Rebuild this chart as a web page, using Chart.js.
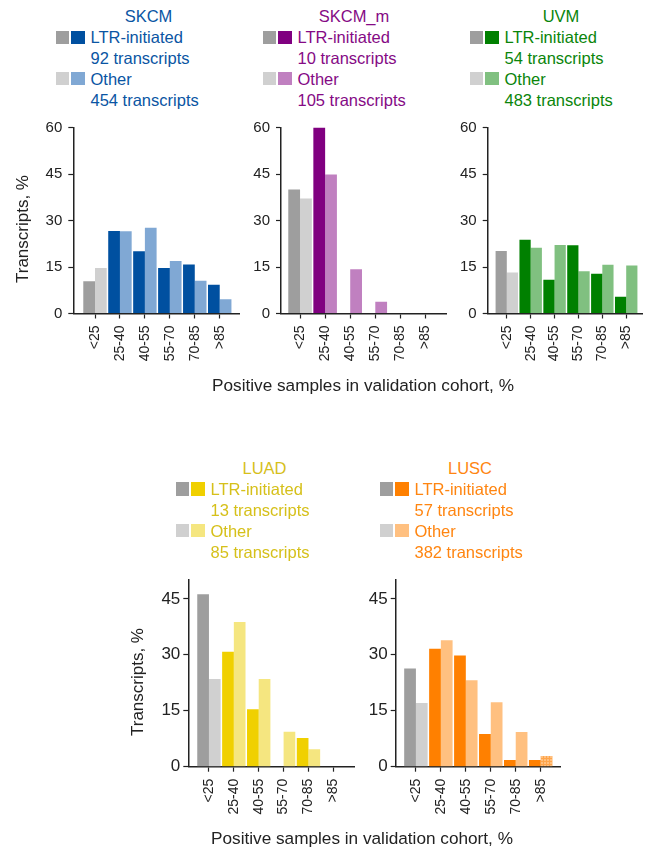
<!DOCTYPE html>
<html>
<head>
<meta charset="utf-8">
<title>LTR-initiated transcripts by cohort</title>
<script src="https://cdn.jsdelivr.net/npm/chart.js@4.4.1/dist/chart.umd.min.js"></script>
<style>
  body { margin: 0; background: #fff; }
  #page { position: relative; width: 650px; height: 850px; overflow: hidden; font-family: "Liberation Sans", Arial, sans-serif; }
  #page canvas { position: absolute; }
  .txt { position: absolute; white-space: nowrap; font-size: 16.5px; line-height: 20px; }
  .sq { position: absolute; width: 13.3px; height: 13.3px; }
  .xtitle { position: absolute; width: 400px; text-align: center; font-size: 17.2px; line-height: 20px; color: #222; white-space: nowrap; }
  .ytitle { position: absolute; width: 200px; text-align: center; font-size: 17px; line-height: 20px; color: #222; white-space: nowrap; transform: rotate(-90deg); }
</style>
</head>
<body>
<div id="page"></div>
<script>
// bins of "positive samples in validation cohort, %"
const labels = ['<25', '25-40', '40-55', '55-70', '70-85', '>85'];

const cohorts = ['SKCM', 'SKCM_m', 'UVM', 'LUAD', 'LUSC'];
const ltrCounts = [92, 10, 54, 13, 57];
const otherCounts = [454, 105, 483, 85, 382];

// share of transcripts per bin, %
const skcmLtr = [10.4, 26.6, 20.1, 14.7, 15.8, 9.3];
const skcmOther = [14.7, 26.5, 27.7, 16.9, 10.6, 4.6];
const skcmMLtr = [40, 60, 0, 0, 0, 0];
const skcmMOther = [37.1, 44.8, 14.3, 3.8, 0, 0];
const uvmLtr = [20.2, 23.8, 10.9, 22.0, 12.8, 5.4];
const uvmOther = [13.2, 21.2, 22.1, 13.6, 15.7, 15.5];
const luadLtr = [46.2, 30.8, 15.4, 0, 7.7, 0];
const luadOther = [23.5, 38.8, 23.5, 9.4, 4.7, 0];
const luscLtr = [26.3, 31.6, 29.8, 8.8, 1.8, 1.8];
const luscOther = [17.1, 33.9, 23.2, 17.3, 9.3, 2.9];

const topTicks = [0, 15, 30, 45, 60];
const bottomTicks = [0, 15, 30, 45];

const FONT = '"Liberation Sans", Arial, sans-serif';
const AXIS = '#222';
const GRAY_DARK = '#9e9e9e';
const GRAY_LIGHT = '#d0d0d0';

const palettes = [
  { dark: '#0050a0', light: '#80a8d4', text: '#0a55a3' },
  { dark: '#800080', light: '#c080c0', text: '#850a85' },
  { dark: '#008000', light: '#80c080', text: '#0a850a' },
  { dark: '#f0d000', light: '#f5e680', text: '#d6c01a' },
  { dark: '#ff8000', light: '#ffc080', text: '#ff8510' }
];

const series = [
  [skcmLtr, skcmOther],
  [skcmMLtr, skcmMOther],
  [uvmLtr, uvmOther],
  [luadLtr, luadOther],
  [luscLtr, luscOther]
];

// where each panel sits on the page
const panels = [
  { left: 0,   top: 110, w: 244, h: 280, padLeft: 12.3, padRight: 4,   padTop: 17.5, yW: 61,   xH: 76.5, xMin: -0.87, xMax: 5.8,  yMax: 60, ticks: topTicks, yFont: 15, yPad: 6 },
  { left: 245, top: 110, w: 205, h: 280, padLeft: 0,    padRight: 4,   padTop: 17.5, yW: 36,   xH: 76.5, xMin: -0.76, xMax: 5.82, yMax: 60, ticks: topTicks, yFont: 15, yPad: 6 },
  { left: 450, top: 110, w: 200, h: 280, padLeft: 0,    padRight: 0,   padTop: 17.5, yW: 37.7, xH: 76.5, xMin: -0.8,  xMax: 5.69, yMax: 60, ticks: topTicks, yFont: 15, yPad: 6 },
  { left: 100, top: 560, w: 258, h: 290, padLeft: 27.3, padRight: 4,   padTop: 20.2, yW: 61,   xH: 83.3, xMin: -0.83, xMax: 5.83, yMax: 50, ticks: bottomTicks, yFont: 17, yPad: 3 },
  { left: 360, top: 560, w: 205, h: 290, padLeft: 0,    padRight: 4.3, padTop: 20.2, yW: 35.7, xH: 83.3, xMin: -0.81, xMax: 5.79, yMax: 50, ticks: bottomTicks, yFont: 17, yPad: 3, hatch: 5 }
];

// legend blocks: x of the grey swatch, centre x of the title, centre y of the title
const legends = [
  { gx: 56,  tx: 148.5, ty: 15.8 },
  { gx: 263, tx: 354,   ty: 15.8 },
  { gx: 470, tx: 561,   ty: 15.8 },
  { gx: 176, tx: 264.5, ty: 467.5 },
  { gx: 380, tx: 470,   ty: 467.5 }
];

const page = document.getElementById('page');

function gridPattern(base, line) {
  const c = document.createElement('canvas');
  c.width = 3; c.height = 3;
  const g = c.getContext('2d');
  g.fillStyle = base; g.fillRect(0, 0, 3, 3);
  g.fillStyle = line; g.fillRect(0, 0, 3, 1); g.fillRect(0, 0, 1, 3);
  return g.createPattern(c, 'repeat');
}

function drawPanel(p, ltr, other, pal) {
  const cv = document.createElement('canvas');
  cv.width = p.w; cv.height = p.h;
  cv.style.left = p.left + 'px';
  cv.style.top = p.top + 'px';
  page.appendChild(cv);

  const toPoints = arr => arr.map((v, i) => ({ x: i, y: v }));
  const ltrFill = labels.map((_, i) => i === 0 ? GRAY_DARK : pal.dark);
  const otherFill = labels.map((_, i) => {
    if (i === 0) return GRAY_LIGHT;
    if (p.hatch === i) return gridPattern(pal.light, '#ffa54a');
    return pal.light;
  });

  const tickGrid = {
    display: true, offset: false, drawOnChartArea: false, drawTicks: true,
    tickLength: 5, tickColor: AXIS, tickWidth: 1.2
  };

  new Chart(cv, {
    type: 'bar',
    data: {
      datasets: [
        { label: 'LTR-initiated', data: toPoints(ltr), backgroundColor: ltrFill, borderWidth: 0, categoryPercentage: 0.94, barPercentage: 1 },
        { label: 'Other', data: toPoints(other), backgroundColor: otherFill, borderWidth: 0, categoryPercentage: 0.94, barPercentage: 1 }
      ]
    },
    options: {
      responsive: false,
      animation: false,
      layout: { padding: { left: p.padLeft, right: p.padRight, top: p.padTop, bottom: 0 } },
      plugins: { legend: { display: false }, tooltip: { enabled: false } },
      scales: {
        x: {
          type: 'linear', min: p.xMin, max: p.xMax, offset: false,
          grid: tickGrid,
          border: { display: true, color: AXIS, width: 1.5 },
          ticks: {
            autoSkip: false, minRotation: 90, maxRotation: 90, padding: 7,
            color: '#222', font: { family: FONT, size: 14 },
            callback: v => labels[v]
          },
          afterBuildTicks: axis => { axis.ticks = labels.map((_, i) => ({ value: i })); },
          afterFit: axis => { axis.height = p.xH; }
        },
        y: {
          min: 0, max: p.yMax,
          grid: tickGrid,
          border: { display: true, color: AXIS, width: 1.5 },
          ticks: { padding: p.yPad, color: '#222', font: { family: FONT, size: p.yFont } },
          afterBuildTicks: axis => { axis.ticks = p.ticks.map(v => ({ value: v })); },
          afterFit: axis => { axis.width = p.yW; }
        }
      }
    }
  });
}

function addText(text, left, centerY, color, extra) {
  const d = document.createElement('div');
  d.className = 'txt';
  d.textContent = text;
  d.style.left = left + 'px';
  d.style.top = (centerY - 9.8) + 'px';
  d.style.color = color;
  if (extra) Object.assign(d.style, extra);
  page.appendChild(d);
}

function addSquare(left, centerY, color) {
  const s = document.createElement('div');
  s.className = 'sq';
  s.style.left = left + 'px';
  s.style.top = (centerY - 6.6) + 'px';
  s.style.background = color;
  page.appendChild(s);
}

function drawLegend(i) {
  const L = legends[i];
  const pal = palettes[i];
  const row = k => L.ty + 21.4 + 20.8 * k;
  addText(cohorts[i], L.tx - 100, L.ty, pal.text, { width: '200px', textAlign: 'center' });
  addSquare(L.gx, row(0), GRAY_DARK);
  addSquare(L.gx + 15.3, row(0), pal.dark);
  addText('LTR-initiated', L.gx + 34.5, row(0), pal.text);
  addText(ltrCounts[i] + ' transcripts', L.gx + 34.5, row(1), pal.text);
  addSquare(L.gx, row(2), GRAY_LIGHT);
  addSquare(L.gx + 15.3, row(2), pal.light);
  addText('Other', L.gx + 34.5, row(2), pal.text);
  addText(otherCounts[i] + ' transcripts', L.gx + 34.5, row(3), pal.text);
}

function addXTitle(centerX, centerY) {
  const d = document.createElement('div');
  d.className = 'xtitle';
  d.textContent = 'Positive samples in validation cohort, %';
  d.style.left = (centerX - 200) + 'px';
  d.style.top = (centerY - 10) + 'px';
  page.appendChild(d);
}

function addYTitle(centerX, centerY) {
  const d = document.createElement('div');
  d.className = 'ytitle';
  d.textContent = 'Transcripts, %';
  d.style.left = (centerX - 100) + 'px';
  d.style.top = (centerY - 10) + 'px';
  page.appendChild(d);
}

panels.forEach((p, i) => {
  drawPanel(p, series[i][0], series[i][1], palettes[i]);
  drawLegend(i);
});

addXTitle(363, 384.5);
addXTitle(362, 837.7);
addYTitle(22.5, 229);
addYTitle(137.5, 682);
</script>
</body>
</html>
